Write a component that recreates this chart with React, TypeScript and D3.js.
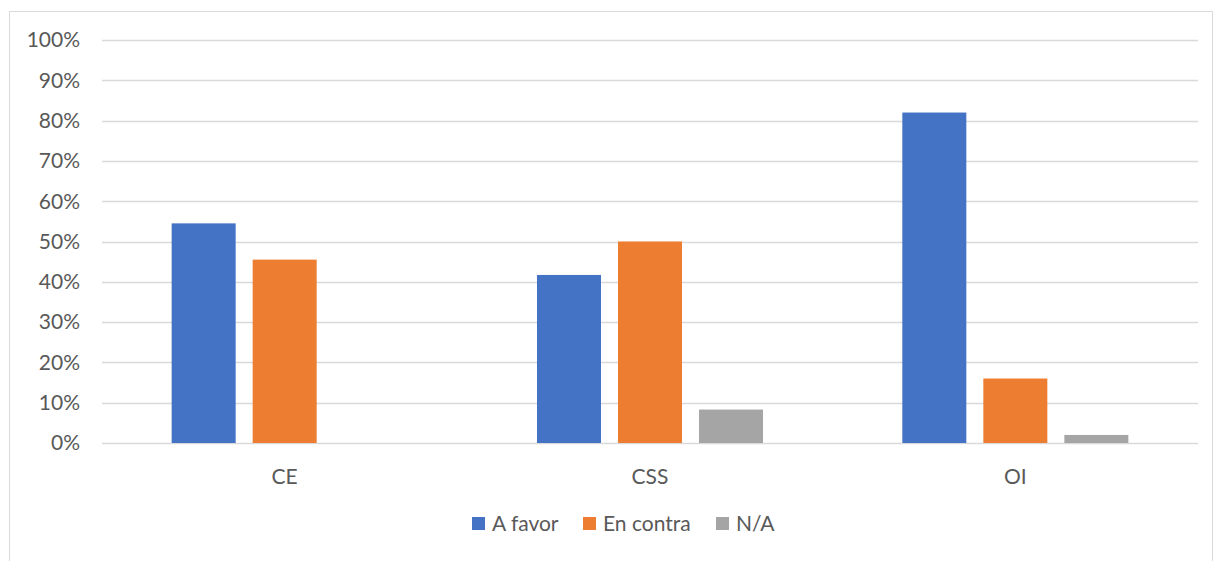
import { useEffect, useRef } from 'react';
import * as d3 from 'd3';

const categories = ['CE', 'CSS', 'OI'];
const seriesNames = ['A favor', 'En contra', 'N/A'];
const aFavor = [54.5, 41.7, 82];
const enContra = [45.5, 50, 16];
const na = [0, 8.3, 2];
const yTicks = [0, 10, 20, 30, 40, 50, 60, 70, 80, 90, 100];

const colors = ['#4472C4', '#ED7D31', '#A5A5A5'];

export default function App() {
  const svgRef = useRef<SVGSVGElement>(null);

  useEffect(() => {
    if (!svgRef.current) return;
    const svg = d3.select(svgRef.current);
    svg.selectAll('*').remove();

    const width = 1214;
    const height = 561;
    const margin = { top: 40, right: 16, bottom: 118, left: 102 };
    const innerW = width - margin.left - margin.right;
    const innerH = height - margin.top - margin.bottom;
    const font = 'Lato, "Open Sans", sans-serif';
    const fontSize = 21;
    const textColor = '#595959';

    svg.attr('width', width).attr('height', height);

    // chart frame
    svg
      .append('rect')
      .attr('x', 9.5)
      .attr('y', 11.5)
      .attr('width', 1203)
      .attr('height', 600)
      .attr('fill', '#fff')
      .attr('stroke', '#d9d9d9')
      .attr('stroke-width', 1);

    const g = svg.append('g').attr('transform', `translate(${margin.left},${margin.top})`);

    const x0 = d3.scaleBand().domain(categories).range([0, innerW]).paddingInner(0.3813).paddingOuter(0.19065);
    const x1 = d3.scaleBand().domain(seriesNames).range([0, x0.bandwidth()]).paddingInner(0.21);
    const y = d3.scaleLinear().domain([0, 100]).range([innerH, 0]);

    // grid
    g.selectAll('.grid')
      .data(yTicks)
      .enter()
      .append('line')
      .attr('x1', 0)
      .attr('x2', innerW)
      .attr('y1', (d) => Math.round(y(d)) + 0.5)
      .attr('y2', (d) => Math.round(y(d)) + 0.5)
      .attr('stroke', '#d9d9d9')
      .attr('stroke-width', 1.5);

    // y labels
    g.selectAll('.ylab')
      .data(yTicks)
      .enter()
      .append('text')
      .attr('x', -22)
      .attr('y', (d) => y(d))
      .attr('dy', '0.35em')
      .attr('text-anchor', 'end')
      .attr('fill', textColor)
      .attr('font-family', font)
      .attr('font-size', fontSize)
      .text((d) => `${d}%`);

    const seriesValues = [aFavor, enContra, na];
    const rows = categories.map((c, i) => ({
      cat: c,
      vals: seriesNames.map((s, j) => ({ name: s, value: seriesValues[j][i], color: colors[j] })),
    }));

    const groups = g
      .selectAll('.grp')
      .data(rows)
      .enter()
      .append('g')
      .attr('transform', (d) => `translate(${x0(d.cat)},0)`);

    groups
      .selectAll('rect')
      .data((d) => d.vals.filter((v) => v.value > 0))
      .enter()
      .append('rect')
      .attr('x', (d) => x1(d.name) ?? 0)
      .attr('width', x1.bandwidth())
      .attr('y', (d) => y(d.value))
      .attr('height', (d) => innerH - y(d.value))
      .attr('fill', (d) => d.color);

    // category labels
    g.selectAll('.xlab')
      .data(categories)
      .enter()
      .append('text')
      .attr('x', (d) => (x0(d) ?? 0) + x0.bandwidth() / 2)
      .attr('y', innerH + 34)
      .attr('dy', '0.35em')
      .attr('text-anchor', 'middle')
      .attr('fill', textColor)
      .attr('font-family', font)
      .attr('font-size', fontSize)
      .text((d) => d);

    // legend
    const legendX = [472, 583, 716];
    const legend = svg
      .selectAll('.leg')
      .data(seriesNames)
      .enter()
      .append('g')
      .attr('transform', (_, i) => `translate(${legendX[i]},524)`);
    legend
      .append('rect')
      .attr('x', 0)
      .attr('y', -7)
      .attr('width', 13)
      .attr('height', 13)
      .attr('fill', (_, i) => colors[i]);
    legend
      .append('text')
      .attr('x', 20)
      .attr('y', 0)
      .attr('dy', '0.35em')
      .attr('fill', textColor)
      .attr('font-family', font)
      .attr('font-size', fontSize)
      .text((d) => d);
  }, []);

  return (
    <div style={{ position: 'absolute', left: 0, top: 0 }}>
      <svg ref={svgRef} style={{ display: 'block' }} />
    </div>
  );
}
